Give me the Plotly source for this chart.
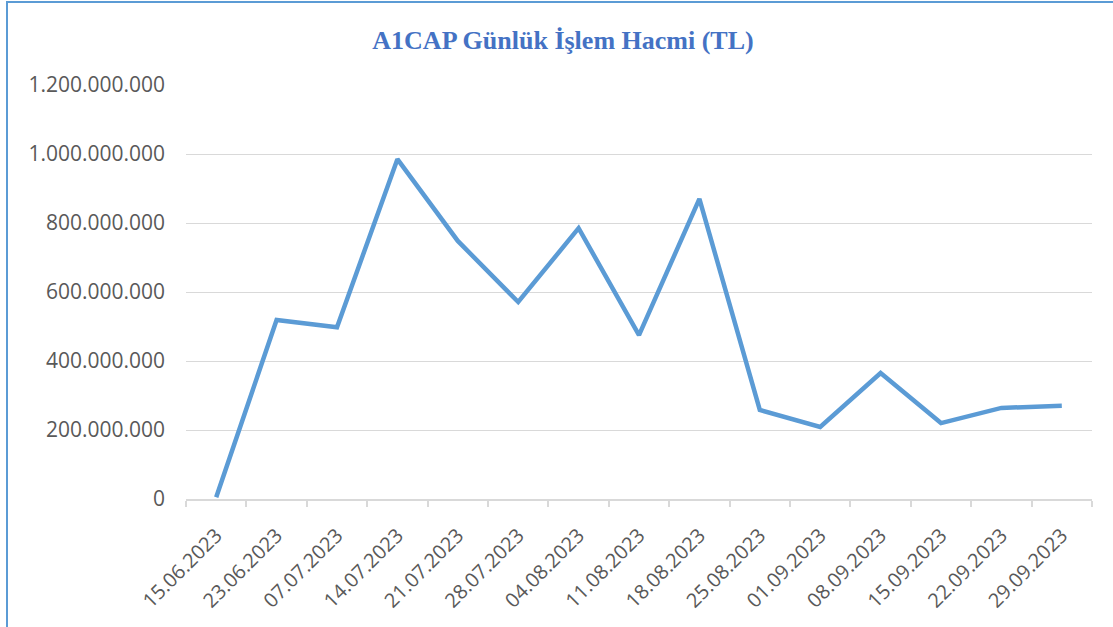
import plotly.graph_objects as go

dates = ["15.06.2023", "23.06.2023", "07.07.2023", "14.07.2023", "21.07.2023",
         "28.07.2023", "04.08.2023", "11.08.2023", "18.08.2023", "25.08.2023",
         "01.09.2023", "08.09.2023", "15.09.2023", "22.09.2023", "29.09.2023"]
volume_tl = [5_000_000, 519_000_000, 498_000_000, 985_000_000, 748_000_000,
             571_000_000, 785_000_000, 475_000_000, 870_000_000, 258_000_000,
             209_000_000, 365_000_000, 220_000_000, 264_000_000, 270_000_000]
y_ticks = [0, 200_000_000, 400_000_000, 600_000_000, 800_000_000, 1_000_000_000, 1_200_000_000]

W, H = 1113, 627
L, R, T, B = 186, 21, 85, 128
pw, ph = W - L - R, H - T - B

fig = go.Figure()
fig.add_trace(go.Scatter(
    x=dates, y=volume_tl, mode="lines",
    line=dict(color="#5B9BD5", width=4.5),
    showlegend=False,
))

def px_to_paper_x(px):
    return (px - L) / pw

def px_to_paper_y(py):
    return (H - B - py) / ph

fig.update_layout(
    width=W, height=H,
    margin=dict(l=L, r=R, t=T, b=B, autoexpand=False),
    paper_bgcolor="white", plot_bgcolor="white",
    separators=",.",
    title=dict(
        text="A1CAP Günlük İşlem Hacmi (TL)",
        font=dict(family="Liberation Serif", size=26, color="#4472C4", weight="bold"),
        x=563 / W, xref="container", xanchor="center",
        y=1 - 40 / H, yref="container", yanchor="middle",
    ),
    xaxis=dict(
        type="category",
        range=[-0.5, len(dates) - 0.5],
        tickangle=-45,
        tickson="boundaries",
        ticks="outside", ticklen=6, tickcolor="#D9D9D9", tickwidth=1.5,
        showline=True, linecolor="#D9D9D9", linewidth=1.5,
        showgrid=False,
        tickfont=dict(family="Open Sans", size=20, color="#595959"),
        ticklabelstandoff=15,
        automargin=False,
    ),
    yaxis=dict(
        range=[0, 1_200_000_000],
        tickvals=y_ticks,
        tickformat=",d",
        showgrid=True, gridcolor="#D9D9D9", gridwidth=1,
        zeroline=False, showline=False, ticks="",
        tickfont=dict(family="Open Sans", size=21, color="#595959"),
        ticklabelstandoff=20,
        automargin=False,
    ),
    shapes=[dict(
        type="rect", xref="paper", yref="paper",
        x0=px_to_paper_x(7), x1=px_to_paper_x(1125),
        y0=px_to_paper_y(640), y1=px_to_paper_y(2),
        line=dict(color="#5B9BD5", width=2), fillcolor="rgba(0,0,0,0)",
        layer="below",
    )],
)

fig.write_html(
    "out.html",
    config={"displayModeBar": False},
    post_script="document.body.style.margin='0';document.body.style.overflow='hidden';",
)
